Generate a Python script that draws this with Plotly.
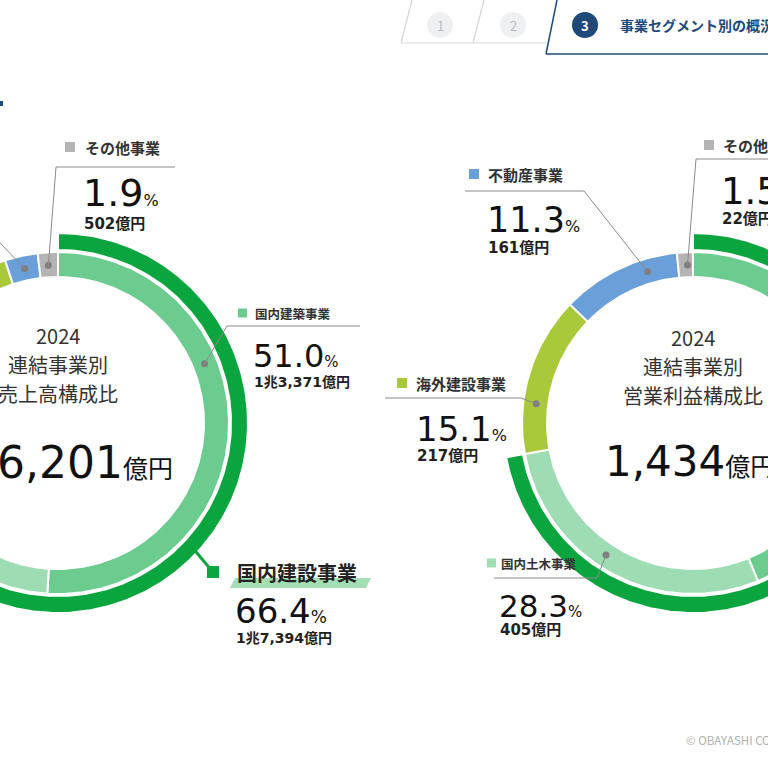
import numpy as np
import plotly.graph_objects as go

# ---------------- data ----------------
segments = ["国内建築事業", "国内土木事業", "海外建設事業", "不動産事業", "その他事業"]
sales_share = [51.0, 15.4, 28.6, 3.1, 1.9]          # % of consolidated net sales
profit_share = [43.8, 28.3, 15.1, 11.3, 1.5]        # % of consolidated operating income
sales_amount = ["1兆3,371億円", None, None, None, "502億円"]
profit_amount = [None, "405億円", "217億円", "161億円", "22億円"]
domestic_label = "国内建設事業"
domestic_sales_share = 66.4
domestic_sales_amount = "1兆7,394億円"
year = "2024"
sales_title = ["連結事業別", "売上高構成比"]
profit_title = ["連結事業別", "営業利益構成比"]
sales_total = ("2兆6,201", "億円")
profit_total = ("1,434", "億円")
tabs = ["1", "2", "3"]
tab_title = "事業セグメント別の概況"
footer = "© OBAYASHI CORPORATION"

# ---------------- style / layout ----------------
FONT = "Noto Sans CJK JP"
NUMFONT = "DejaVu Sans, Noto Sans CJK JP"
seg_colors = ["#6ccb8f", "#9edcb3", "#a9c93b", "#6a9fda", "#b4b4b4"]
outer_color = "#0aa53e"
navy = "#1e4a79"
CY = 423
CX_L, CX_R = 58, 693
R_IN0, R_IN1 = 146, 171
R_OUT0, R_OUT1 = 173, 190
R_DOT = 158

fig = go.Figure()
shapes = []
ann = []


def polar_pt(cx, ang, r):
    t = np.radians(ang)
    return cx + r * np.sin(t), CY - r * np.cos(t)


def ring_segment(cx, r0, r1, a0, a1, color):
    n = max(int(abs(a1 - a0) / 0.8) + 2, 4)
    t = np.linspace(a0, a1, n)
    xo, yo = polar_pt(cx, t, r1)
    xi, yi = polar_pt(cx, t[::-1], r0)
    x = np.concatenate([xo, xi, xo[:1]])
    y = np.concatenate([yo, yi, yo[:1]])
    fig.add_trace(go.Scatter(x=x, y=y, mode="lines", fill="toself", fillcolor=color,
                             line=dict(color="white", width=2), hoverinfo="skip",
                             showlegend=False))


def donut(cx, shares, outer_share):
    cum = np.concatenate([[0], np.cumsum(shares)]) * 3.6
    for i in range(len(shares)):
        ring_segment(cx, R_IN0, R_IN1, cum[i], cum[i + 1], seg_colors[i])
    ring_segment(cx, R_OUT0, R_OUT1, 0, outer_share * 3.6, outer_color)


donut(CX_L, sales_share, domestic_sales_share)
donut(CX_R, profit_share, profit_share[0] + profit_share[1])


def txt(x, y, text, size, color="#222", anchor="left", bold=False, family=FONT):
    ann.append(dict(x=x, y=y, xref="x", yref="y", text=text, showarrow=False,
                    xanchor=anchor, yanchor="middle",
                    font=dict(family=family, size=size, color=color,
                              weight="bold" if bold else "normal")))


def square(x, y, s, color):
    shapes.append(dict(type="rect", xref="x", yref="y", x0=x, x1=x + s,
                       y0=y - s / 2, y1=y + s / 2, fillcolor=color, line=dict(width=0)))


def leader(pts, color="#8a8a8a", width=1):
    path = "M " + " L ".join(f"{px:.1f},{py:.1f}" for px, py in pts)
    shapes.append(dict(type="path", xref="x", yref="y", path=path,
                       line=dict(color=color, width=width)))


def dot(cx, ang):
    px, py = polar_pt(cx, ang, R_DOT)
    shapes.append(dict(type="circle", xref="x", yref="y", x0=px - 3.5, x1=px + 3.5,
                       y0=py - 3.5, y1=py + 3.5, fillcolor="#7f7f7f", line=dict(width=0)))
    return px, py


def value(x, y, v, size, psize=16):
    txt(x, y, f"{v:.1f}<span style='font-size:{psize}px'>%</span>", size, "#111",
        family=NUMFONT)


def amount(x, y, s, size=15):
    txt(x, y, s, size, "#222", bold=True, family=NUMFONT)


# ---- left chart labels ----
# その他事業
i = 4
square(65, 147, 10, seg_colors[i])
txt(83, 147, segments[i], 15, "#333", bold=True)
d = dot(CX_L, 356.5)
leader([(175, 167), (56, 167), d])
value(81, 193, sales_share[i], 38)
amount(82, 224, sales_amount[i])

# 不動産事業 leader (label off-screen)
d = dot(CX_L, 347.8)
leader([(-20, 222), d])

# 国内建築事業
i = 0
square(238, 313, 9, seg_colors[i])
txt(253, 313, segments[i], 12.5, "#333", bold=True)
d = dot(CX_L, 68)
leader([(360, 326), (227, 326), d])
value(251, 356, sales_share[i], 32, 15)
amount(252, 382, sales_amount[i], 14)

# 国内建設事業 (outer ring)
shapes.append(dict(type="path", xref="x", yref="y", path="M 230,588 L 235,578 L 371,578 L 366,588 Z",
                   fillcolor="#a3deb5", line=dict(width=0), layer="below"))
gx, gy = polar_pt(CX_L, 133, R_OUT1 - 2)
leader([(gx, gy), (212, 571)], color=outer_color, width=3)
square(207, 572, 12, outer_color)
txt(235, 572, domestic_label, 20, "#222", bold=True)
value(233, 611, domestic_sales_share, 34, 17)
amount(234, 638, domestic_sales_amount, 14)

# centre text left
txt(CX_L, 335, year, 20, "#333", anchor="center")
txt(CX_L, 364, sales_title[0], 20, "#333", anchor="center")
txt(CX_L, 393, sales_title[1], 20, "#333", anchor="center")
txt(175, 462, f"{sales_total[0]}<span style='font-size:25px'>{sales_total[1]}</span>", 44,
    "#111", anchor="right", family=NUMFONT)

# ---- right chart labels ----
# 不動産事業
i = 3
square(469, 174, 10, seg_colors[i])
txt(486, 174, segments[i], 15, "#333", bold=True)
d = dot(CX_R, 343.3)
leader([(465, 191), (584, 191), d])
value(485, 220, profit_share[i], 35)
amount(486, 248, profit_amount[i])

# 海外建設事業
i = 2
square(397, 383, 10, seg_colors[i])
txt(414, 383, segments[i], 15, "#333", bold=True)
d = dot(CX_R, 277)
leader([(385, 398), (521, 398), d])
value(414, 429, profit_share[i], 34)
amount(415, 456, profit_amount[i])

# 国内土木事業
i = 1
square(487, 563, 9, seg_colors[i])
txt(499, 563, segments[i], 12.5, "#333", bold=True)
d = dot(CX_R, 213.4)
leader([(494, 578), (597, 578), d])
value(497, 606, profit_share[i], 31, 15)
amount(498, 630, profit_amount[i])

# その他事業
i = 4
square(704, 145, 10, seg_colors[i])
txt(721, 145, segments[i], 15, "#333", bold=True)
d = dot(CX_R, 358)
leader([(790, 159), (696, 159), d])
value(719, 191, profit_share[i], 37)
amount(720, 219, profit_amount[i])

# centre text right
txt(CX_R, 337, year, 20, "#333", anchor="center")
txt(CX_R, 366, profit_title[0], 20, "#333", anchor="center")
txt(CX_R, 395, profit_title[1], 20, "#333", anchor="center")
txt(603, 461, f"{profit_total[0]}<span style='font-size:25px'>{profit_total[1]}</span>", 42,
    "#111", anchor="left", family=NUMFONT)

# ---- header tabs ----
gray_line = dict(color="#d3d7db", width=1.2)
shapes += [
    dict(type="line", xref="x", yref="y", x0=401, y0=43, x1=412, y1=0, line=gray_line),
    dict(type="line", xref="x", yref="y", x0=401, y0=43, x1=546, y1=43, line=gray_line),
    dict(type="line", xref="x", yref="y", x0=473, y0=43, x1=484, y1=0, line=gray_line),
    dict(type="line", xref="x", yref="y", x0=546, y0=54, x1=557, y1=0, line=dict(color=navy, width=1.5)),
    dict(type="line", xref="x", yref="y", x0=546, y0=54, x1=780, y1=54, line=dict(color=navy, width=1.5)),
    dict(type="rect", xref="x", yref="y", x0=0, x1=3, y0=101, y1=106, fillcolor=navy, line=dict(width=0)),
]
tab_x = [440, 513, 585]
for k, lab in enumerate(tabs):
    active = k == 2
    shapes.append(dict(type="circle", xref="x", yref="y", x0=tab_x[k] - 13, x1=tab_x[k] + 13,
                       y0=25 - 13, y1=25 + 13, fillcolor=navy if active else "#eef0f2",
                       line=dict(width=0)))
    txt(tab_x[k], 25, lab, 13, "white" if active else "#b7bcc1", anchor="center", bold=active)
txt(618, 25, tab_title, 14, navy, bold=True)

# footer
txt(684, 740, footer, 11.5, "#b0b0b0")

fig.update_layout(
    width=768, height=768, autosize=False,
    margin=dict(l=0, r=0, t=0, b=0),
    paper_bgcolor="white", plot_bgcolor="white",
    xaxis=dict(range=[0, 768], visible=False, fixedrange=True),
    yaxis=dict(range=[768, 0], visible=False, fixedrange=True),
    shapes=shapes, annotations=ann, showlegend=False,
)
fig.write_html("out.html")
